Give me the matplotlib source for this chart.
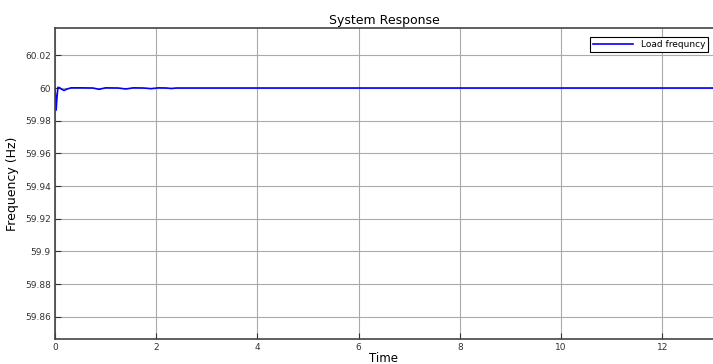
import matplotlib.pyplot as plt

# time (s) and load frequency (Hz)
time = [0, 0.01, 0.025, 0.04, 0.06, 0.09, 0.13, 0.18, 0.24, 0.32, 0.5, 0.75,
        0.87, 1.0, 1.25, 1.4, 1.55, 1.75, 1.9, 2.05, 2.2, 2.3, 2.4, 3.0, 13.0]
freq = [60.0, 59.996, 59.9865, 59.994, 60.0004, 60.0002, 59.9993, 59.9985, 59.9994,
        60.0001, 60.0001, 60.0, 59.9992, 60.0001, 60.0, 59.9994, 60.0001, 60.0,
        59.9996, 60.0001, 60.0, 59.9997, 60.0, 60.0, 60.0]

yticks = [59.86, 59.88, 59.9, 59.92, 59.94, 59.96, 59.98, 60, 60.02]
ytick_labels = ['59.86', '59.88', '59.9', '59.92', '59.94', '59.96', '59.98', '60', '60.02']
xticks = [0, 2, 4, 6, 8, 10, 12]

fig = plt.figure(figsize=(7.13, 3.64), dpi=100)
ax = fig.add_axes([0.077, 0.069, 0.923, 0.854])

ax.plot(time, freq, color='#0000ff', lw=1.2, label='Load frequncy')

ax.set_xlim(0, 13)
ax.set_ylim(59.8465, 60.0367)
ax.set_xticks(xticks)
ax.set_yticks(yticks)
ax.set_yticklabels(ytick_labels)
ax.tick_params(labelsize=6.5, colors='#333333', direction='in', length=4, pad=3)
ax.grid(True, color='#aaaaaa', lw=0.8)

for s in ['left', 'bottom', 'top']:
    ax.spines[s].set_color('#444444')
    ax.spines[s].set_linewidth(1.2)
ax.spines['right'].set_visible(False)

ax.set_title('System Response', fontsize=9, pad=3)
ax.set_xlabel('Time', fontsize=8.5, labelpad=0)
ax.set_ylabel('Frequency (Hz)', fontsize=9, labelpad=4)

leg = ax.legend(loc='upper right', fontsize=6.5, fancybox=False, framealpha=1,
                edgecolor='black', borderpad=0.3, handlelength=4.5,
                bbox_to_anchor=(0.999, 0.985))
leg.get_frame().set_linewidth(0.8)

fig.savefig('out.png', dpi=100)
